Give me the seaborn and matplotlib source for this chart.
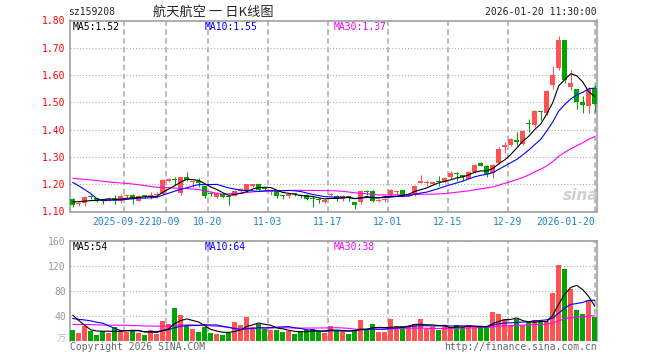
import numpy as np
import pandas as pd
import matplotlib
matplotlib.use("Agg")
import matplotlib.pyplot as plt
import matplotlib.transforms as mtransforms
import seaborn as sns

# ---------------- data ----------------
opens = [1.146, 1.128, 1.132, 1.155, 1.148, 1.142, 1.143, 1.146, 1.137, 1.155,
         1.162, 1.140, 1.158, 1.158, 1.160, 1.165, 1.210, 1.218, 1.168, 1.228,
         1.208, 1.212, 1.192, 1.168, 1.152, 1.165, 1.157, 1.158, 1.176, 1.177,
         1.193, 1.200, 1.184, 1.173, 1.176, 1.158, 1.155, 1.166, 1.162, 1.162,
         1.150, 1.143, 1.135, 1.160, 1.158, 1.145, 1.155, 1.134, 1.133, 1.172,
         1.175, 1.140, 1.143, 1.162, 1.170, 1.178, 1.158, 1.162, 1.205, 1.203,
         1.200, 1.212, 1.207, 1.227, 1.242, 1.232, 1.220, 1.243, 1.276, 1.268,
         1.240, 1.278, 1.335, 1.345, 1.362, 1.348, 1.426, 1.418, 1.468, 1.460,
         1.563, 1.625, 1.730, 1.557, 1.549, 1.500, 1.485, 1.554]
highs = [1.148, 1.136, 1.158, 1.160, 1.150, 1.144, 1.152, 1.160, 1.165, 1.160,
         1.164, 1.160, 1.162, 1.172, 1.170, 1.218, 1.222, 1.225, 1.228, 1.245,
         1.216, 1.222, 1.195, 1.172, 1.170, 1.167, 1.158, 1.178, 1.185, 1.202,
         1.202, 1.202, 1.186, 1.180, 1.178, 1.162, 1.168, 1.168, 1.164, 1.164,
         1.155, 1.148, 1.145, 1.168, 1.160, 1.160, 1.158, 1.136, 1.178, 1.178,
         1.178, 1.145, 1.150, 1.182, 1.176, 1.180, 1.166, 1.198, 1.232, 1.215,
         1.212, 1.230, 1.228, 1.250, 1.245, 1.235, 1.250, 1.275, 1.280, 1.270,
         1.274, 1.335, 1.355, 1.370, 1.390, 1.400, 1.440, 1.472, 1.470, 1.545,
         1.635, 1.743, 1.730, 1.620, 1.550, 1.525, 1.556, 1.565]
lows = [1.118, 1.120, 1.120, 1.147, 1.135, 1.128, 1.138, 1.128, 1.130, 1.148,
        1.128, 1.138, 1.150, 1.146, 1.148, 1.160, 1.208, 1.198, 1.162, 1.210,
        1.190, 1.190, 1.150, 1.158, 1.150, 1.148, 1.125, 1.155, 1.172, 1.172,
        1.190, 1.175, 1.176, 1.160, 1.150, 1.145, 1.150, 1.158, 1.150, 1.142,
        1.115, 1.132, 1.130, 1.155, 1.140, 1.140, 1.137, 1.108, 1.126, 1.160,
        1.135, 1.135, 1.135, 1.158, 1.165, 1.156, 1.155, 1.155, 1.205, 1.195,
        1.198, 1.195, 1.205, 1.220, 1.210, 1.210, 1.218, 1.240, 1.265, 1.225,
        1.222, 1.275, 1.315, 1.340, 1.345, 1.345, 1.390, 1.410, 1.434, 1.455,
        1.548, 1.620, 1.570, 1.545, 1.477, 1.460, 1.460, 1.465]
closes = [1.123, 1.131, 1.154, 1.153, 1.140, 1.140, 1.145, 1.144, 1.157, 1.157,
          1.144, 1.157, 1.156, 1.160, 1.162, 1.215, 1.220, 1.215, 1.225, 1.214,
          1.211, 1.205, 1.156, 1.164, 1.168, 1.152, 1.154, 1.176, 1.182, 1.200,
          1.200, 1.180, 1.182, 1.176, 1.155, 1.156, 1.165, 1.163, 1.155, 1.145,
          1.147, 1.141, 1.143, 1.163, 1.145, 1.158, 1.150, 1.122, 1.174, 1.170,
          1.140, 1.142, 1.146, 1.178, 1.173, 1.158, 1.162, 1.195, 1.212, 1.204,
          1.208, 1.207, 1.222, 1.241, 1.237, 1.226, 1.245, 1.270, 1.266, 1.238,
          1.269, 1.330, 1.343, 1.364, 1.356, 1.395, 1.420, 1.468, 1.463, 1.540,
          1.602, 1.730, 1.582, 1.570, 1.503, 1.490, 1.549, 1.495]
volumes = [16.8, 12.5, 23.0, 15.7, 8.8, 14.7, 12.5, 21.6, 16.8, 14.0,
           16.8, 12.0, 8.8, 16.8, 10.4, 31.2, 26.0, 52.0, 40.8, 23.7,
           18.4, 13.6, 22.0, 12.0, 10.4, 8.8, 11.7, 29.6, 24.8, 37.6,
           22.0, 27.0, 19.0, 16.8, 16.8, 14.0, 15.7, 10.4, 14.0, 16.8,
           19.0, 14.0, 11.7, 23.0, 15.7, 15.7, 10.4, 15.7, 32.8, 16.8,
           26.4, 14.0, 14.0, 34.4, 22.0, 23.0, 23.0, 27.0, 34.4, 19.0,
           22.0, 17.6, 22.0, 22.0, 24.8, 22.0, 24.8, 20.8, 22.0, 22.0,
           46.0, 42.4, 34.0, 24.8, 34.0, 24.8, 31.7, 32.8, 30.0, 31.7,
           76.5, 120.8, 114.4, 83.0, 48.8, 42.4, 64.8, 37.0]
# estimated sessions before the visible window (only feed the moving averages)
pre_close = [1.200, 1.210, 1.215, 1.205, 1.220, 1.210, 1.215, 1.205, 1.210, 1.210,
             1.240, 1.250, 1.255, 1.245, 1.250, 1.240, 1.255, 1.250, 1.245, 1.260,
             1.260, 1.290, 1.300, 1.320, 1.225, 1.126, 1.144, 1.143, 1.139]
pre_volume = [20, 22, 21, 23, 19, 22, 21, 20, 24, 22,
              21, 20, 22, 21, 23, 20, 22, 21, 20, 21,
              28, 32, 30, 31, 30, 55, 62, 52, 18]

tick_index = [9, 16, 23, 33, 43, 53, 63, 73, 87]
tick_labels = ["2025-09-22", "10-09", "10-20", "11-03", "11-17",
               "12-01", "12-15", "12-29", "2026-01-20"]
price_ticks = [1.10, 1.20, 1.30, 1.40, 1.50, 1.60, 1.70, 1.80]
volume_ticks = [40, 80, 120, 160]

# ---------------- style ----------------
sns.set_theme(style="white")
MONO = ["DejaVu Sans Mono"]
plt.rcParams["font.family"] = ["DejaVu Sans Mono", "Noto Sans CJK SC"]

RED = "#FF5252"
GREEN = "#00A400"
GRID = "#A8A8A8"
FRAME = "#A0A0A0"
FS = 7.0

n = len(closes)
idx = np.arange(n)
o = np.array(opens); c = np.array(closes); h = np.array(highs); l = np.array(lows)
up = c >= o
colors = np.where(up, RED, GREEN)

fc = pd.Series(pre_close + closes)
ma5 = fc.rolling(5).mean().to_numpy()[-n:]
ma10 = fc.rolling(10).mean().to_numpy()[-n:]
ma30 = fc.rolling(30).mean().to_numpy()[-n:]
fv = pd.Series(pre_volume + volumes)
vma5 = fv.rolling(5).mean().to_numpy()[-n:]
vma10 = fv.rolling(10).mean().to_numpy()[-n:]
vma30 = fv.rolling(30).mean().to_numpy()[-n:]

W, H = 660, 360
fig = plt.figure(figsize=(6.6, 3.6), dpi=100)
fig.patch.set_facecolor("white")
ax = fig.add_axes([70 / W, 148.5 / H, 527 / W, 191 / H])
axv = fig.add_axes([70 / W, 19.5 / H, 527 / W, 99.5 / H])

# ---------------- price panel ----------------
ax.vlines(idx, l, h, colors=colors, linewidth=0.75, zorder=2)
body_bottom = np.minimum(o, c)
body_height = np.maximum(np.abs(c - o), 0.0037)
ax.bar(idx, body_height, bottom=body_bottom, width=0.83, color=colors,
       linewidth=0, zorder=3)
sns.lineplot(x=idx, y=ma30, ax=ax, color="#FF00FF", linewidth=0.8, zorder=4)
sns.lineplot(x=idx, y=ma10, ax=ax, color="#0000FF", linewidth=0.8, zorder=5)
sns.lineplot(x=idx, y=ma5, ax=ax, color="black", linewidth=0.8, zorder=6)

grid_x = [t - 0.5 for t in tick_index[:-1]] + [tick_index[-1]]
ax.set_xlim(-0.45, 87.38)
ax.set_ylim(1.10, 1.80)
ax.set_yticks(price_ticks, labels=[f"{p:.2f}" for p in price_ticks])
ax.set_xticks(grid_x, labels=tick_labels)
ax.tick_params(axis="y", length=0, pad=3, labelcolor="#FF0000", labelsize=FS)
ax.tick_params(axis="x", length=0, pad=4, labelcolor="#1A85D0", labelsize=FS)
xl = ax.get_xticklabels()
xl[-1].set_ha("right")
xl[0].set_transform(xl[0].get_transform() +
                    mtransforms.ScaledTranslation(-2.5 / 100, 0, fig.dpi_scale_trans))
ax.xaxis.grid(True, color=GRID, linestyle=(0, (3.6, 2.2)), linewidth=1.1)
ax.yaxis.grid(True, color=GRID, linestyle=(0, (1, 2)), linewidth=0.75)
ax.set_axisbelow(True)
for s in ax.spines.values():
    s.set_color(FRAME)
    s.set_linewidth(1.2)
    s.set_visible(True)
ax.set_xlabel(""); ax.set_ylabel("")

# ---------------- volume panel ----------------
vol_df = pd.DataFrame({"i": idx, "vol": volumes,
                       "dir": np.where(up, "up", "down")})
sns.barplot(data=vol_df, x="i", y="vol", hue="dir",
            palette={"up": RED, "down": GREEN}, dodge=False, legend=False,
            width=0.83, saturation=1, linewidth=0, ax=axv, zorder=3)
sns.lineplot(x=idx, y=vma30, ax=axv, color="#FF00FF", linewidth=0.8, zorder=4)
sns.lineplot(x=idx, y=vma10, ax=axv, color="#0000FF", linewidth=0.8, zorder=5)
sns.lineplot(x=idx, y=vma5, ax=axv, color="black", linewidth=0.8, zorder=6)
axv.set_xlim(-0.45, 87.38)
axv.set_ylim(0, 160)
axv.set_yticks(volume_ticks, labels=[str(v) for v in volume_ticks])
axv.set_xticks(grid_x, labels=[""] * len(grid_x))
axv.tick_params(axis="y", length=0, pad=3, labelcolor="#999999", labelsize=FS)
axv.tick_params(axis="x", length=0)
axv.xaxis.grid(True, color=GRID, linestyle=(0, (3.6, 2.2)), linewidth=1.1)
axv.yaxis.grid(True, color=GRID, linestyle=(0, (1, 2)), linewidth=0.75)
axv.set_axisbelow(True)
for k, s in axv.spines.items():
    s.set_color(FRAME)
    s.set_linewidth(1.2)
    s.set_visible(k != "bottom")
axv.set_xlabel(""); axv.set_ylabel("")


def ftext(x, y, s, **kw):
    fig.text(x / W, 1 - y / H, s, **kw)


# ---------------- texts ----------------
ftext(68, 12, "sz159208", ha="left", va="center", size=FS, family=MONO)
ftext(213, 12, "航天航空 一 日K线图", ha="center", va="center", size=9.5,
      family=["Noto Sans CJK SC", "DejaVu Sans"])
ftext(597, 12, "2026-01-20 11:30:00", ha="right", va="center", size=FS, family=MONO)

ftext(73, 27, f"MA5:{ma5[-1]:.2f}", ha="left", va="center", size=FS, family=MONO, color="black")
ftext(205, 27, f"MA10:{ma10[-1]:.2f}", ha="left", va="center", size=FS, family=MONO, color="#0000FF")
ftext(334, 27, f"MA30:{ma30[-1]:.2f}", ha="left", va="center", size=FS, family=MONO, color="#FF00FF")

ftext(73, 247, "MA5:54", ha="left", va="center", size=FS, family=MONO, color="black")
ftext(205, 247, "MA10:64", ha="left", va="center", size=FS, family=MONO, color="#0000FF")
ftext(334, 247, "MA30:38", ha="left", va="center", size=FS, family=MONO, color="#FF00FF")

ftext(66, 339, "万", ha="right", va="center", size=6.5, color="#BBBBBB",
      family=["Noto Sans CJK SC", "DejaVu Sans"])
ftext(70, 347, "Copyright 2026 SINA.COM", ha="left", va="center", size=FS,
      family=MONO, color="#666666")
ftext(597, 347, "http://finance.sina.com.cn", ha="right", va="center", size=FS,
      family=MONO, color="#666666")
ftext(581, 196, "sina", ha="center", va="center", size=11, fontweight="bold",
      style="italic", color="#CFCFCF", family=["DejaVu Sans"])

fig.savefig("out.png", dpi=100, facecolor="white")
